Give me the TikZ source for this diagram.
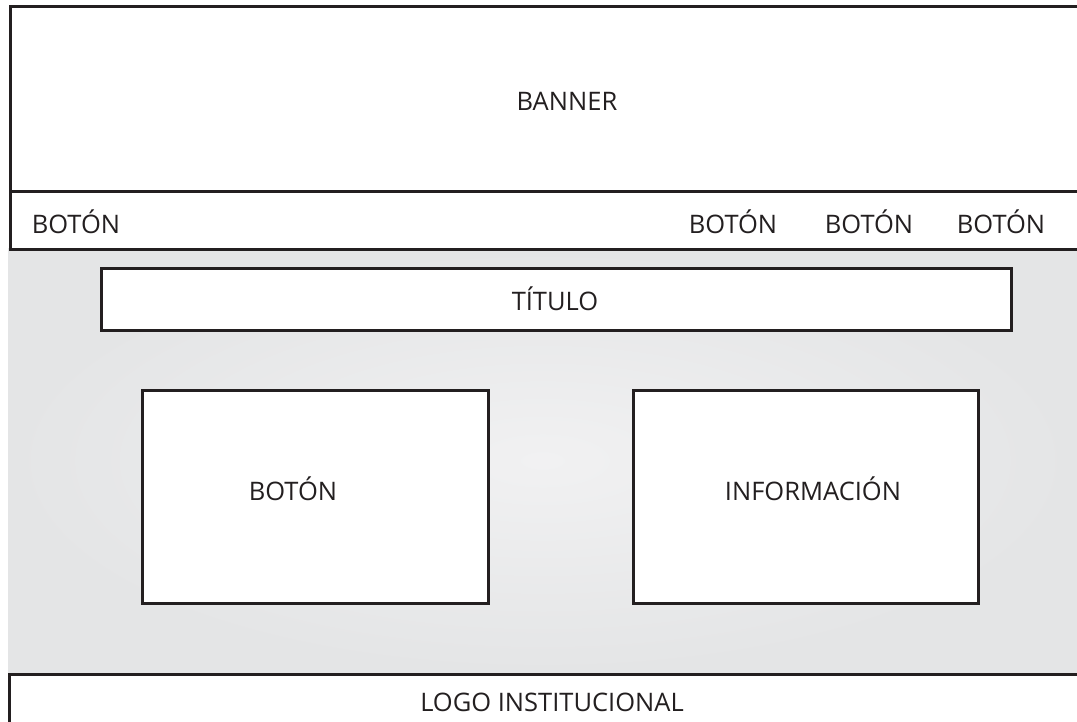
\documentclass[tikz,border=0pt]{standalone}
\usepackage{fontspec}
\setmainfont{Open Sans}
\definecolor{ln}{HTML}{231F20}
\definecolor{bgin}{HTML}{F1F1F2}
\definecolor{bgout}{HTML}{E4E5E6}
\begin{document}
\begin{tikzpicture}[x=1pt,y=-1pt,
  frame/.style={draw=ln,line width=2.6pt,fill=white},
  lbl/.style={font=\fontsize{25.5}{25.5}\selectfont,text=ln,inner sep=0pt}]
\useasboundingbox (0,0) rectangle (1077,721);
% gray content area
\shade[inner color=bgin,outer color=bgout] (8,248) rectangle (1077,673);
% banner
\node[frame,minimum width=1080pt,minimum height=185pt,anchor=north west,inner sep=0pt] (banner) at (9,5) {};
\node[lbl] (bannertxt) at (567,101) {BANNER};
% nav bar
\node[frame,minimum width=1080pt,minimum height=58pt,anchor=north west,inner sep=0pt] (nav) at (9,190) {};
\node[lbl] (b1) at (76,222) {BOTÓN};
\node[lbl] (b2) at (733,222) {BOTÓN};
\node[lbl] (b3) at (869,222) {BOTÓN};
\node[lbl] (b4) at (1001,222) {BOTÓN};
% title
\node[frame,minimum width=910pt,minimum height=62pt,anchor=north west,inner sep=0pt] (title) at (100,267) {};
\node[lbl] (titletxt) at (555,299) {TÍTULO};
% boxes
\node[frame,minimum width=346pt,minimum height=213pt,anchor=north west,inner sep=0pt] (boxa) at (141,389) {};
\node[lbl] (boxatxt) at (293,489) {BOTÓN};
\node[frame,minimum width=345pt,minimum height=213pt,anchor=north west,inner sep=0pt] (boxb) at (632,389) {};
\node[lbl] (boxbtxt) at (813,489) {INFORMACIÓN};
% footer
\node[frame,minimum width=1080pt,minimum height=60pt,anchor=north west,inner sep=0pt] (footer) at (8,673) {};
\node[lbl] (footertxt) at (552,702) {LOGO INSTITUCIONAL};
\end{tikzpicture}
\end{document}
